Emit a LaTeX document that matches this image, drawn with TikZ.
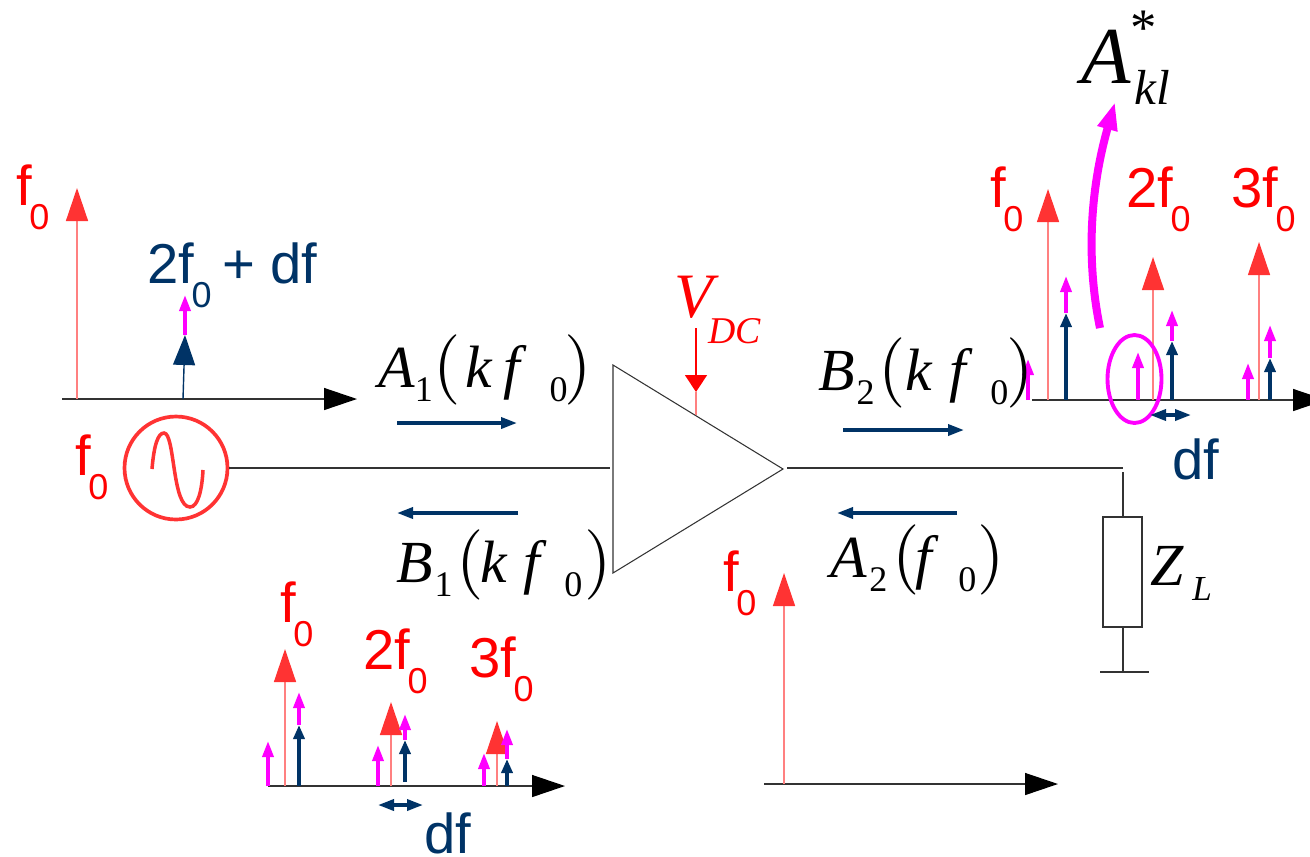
\documentclass[tikz,border=0pt]{standalone}
\usepackage{fontspec}
\usepackage{tikz}
\usetikzlibrary{arrows.meta,shapes.geometric}
\setmainfont{Liberation Sans}
\newfontfamily\ser{Liberation Serif}
\definecolor{navy}{HTML}{003366}
\definecolor{redhead}{HTML}{FF3333}
\definecolor{redline}{HTML}{FF8080}
\definecolor{magent}{HTML}{FF00FF}
\definecolor{wire}{HTML}{333333}
\newcommand{\lowz}[1]{\hspace{-1.5pt}\raisebox{-14.2pt}{\fontsize{20.5}{21}\selectfont #1}}
\newcommand{\itf}[1]{{\fontsize{34}{34}\selectfont\itshape #1}}
\newcommand{\lowf}[1]{\raisebox{-8.5pt}{\fontsize{20.5}{21}\selectfont #1}}
\newcommand{\prn}[1]{\scalebox{4}{$#1$}}

\begin{document}
\begin{tikzpicture}[
    x=0.02cm, y=-0.02cm,
    wireline/.style={draw=wire, line width=0.7pt},
    axisline/.style={draw=wire, line width=0.8pt, -{Triangle[length=0.66cm,width=0.44cm,color=black]}},
    redspike/.style={draw=redline, line width=0.8pt, -{Triangle[length=0.66cm,width=0.44cm,color=redhead]}},
    navyspike/.style={draw=navy, line width=2pt, -{Triangle[length=0.28cm,width=0.22cm]}},
    magspike/.style={draw=magent, line width=2pt, -{Triangle[length=0.32cm,width=0.22cm]}},
    flow/.style={draw=navy, line width=2pt, -{Triangle[length=0.32cm,width=0.22cm]}},
    span/.style={draw=navy, line width=2pt, {Triangle[length=0.32cm,width=0.22cm]}-{Triangle[length=0.32cm,width=0.22cm]}},
    redlab/.style={anchor=base west, inner sep=0pt, text=red, font=\fontsize{32}{32}\selectfont},
    navylab/.style={anchor=base west, inner sep=0pt, text=navy, font=\fontsize{32}{32}\selectfont},
    formula/.style={anchor=base west, inner sep=0pt, font=\ser}
]
\clip (0,0) rectangle (1310,856);
\useasboundingbox (0,0) rectangle (1310,856);
% circuit
\node[circle, draw=redhead, line width=2.1pt, minimum size=2.06cm, inner sep=0pt] (src) at (176,468) {};
\draw[redhead, line width=2pt] (152,469) .. controls (154,445) and (158,433) .. (164,433) .. controls (175,433) and (172,507) .. (190,507) .. controls (198,507) and (202,490) .. (203,470);
\coordinate (ampa) at (613,365);
\coordinate (ampb) at (613,573);
\coordinate (ampc) at (783,469);
\coordinate (ampin) at (610,468);
\coordinate (ampout) at (787,468);
\coordinate (corner) at (1123,468);
\coordinate (loadtop) at (1123,472);
\coordinate (gnd) at (1123,672);
\coordinate (gndl) at (1100,672);
\coordinate (gndr) at (1149,672);
\draw[wireline, line width=0.6pt] (ampa) -- (ampc) -- (ampb) -- cycle;
\draw[wireline] (src) -- (ampin);
\draw[wireline] (ampout) -- (corner);
\node[rectangle, draw=wire, line width=0.7pt, minimum width=0.78cm, minimum height=2.2cm, inner sep=0pt] (zl) at (1122.5,572) {};
\draw[wireline] (loadtop) -- (zl.north -| loadtop);
\draw[wireline] (zl.south -| gnd) -- (gnd);
\draw[wireline] (gndl) -- (gndr);
\coordinate (vtop) at (696,328);
\coordinate (vtip) at (696,392);
\coordinate (vamp) at (696,415);
\draw[draw=redline, line width=0.8pt] (vtip) -- (vamp);
\draw[draw=red, line width=0.8pt, -{Triangle[length=0.34cm,width=0.44cm,color=red]}] (vtop) -- (vtip);
% flow arrows
\foreach \n/\xa/\ya/\xb in {aone/397/423/517, bone/518/513/397, btwo/843/430/964, atwo/957/513/837} {
    \coordinate (\n s) at (\xa,\ya);
    \coordinate (\n e) at (\xb,\ya);
    \draw[flow] (\n s) -- (\n e);
}
% axes
\coordinate (axa) at (62,399);   \coordinate (axb) at (357,399);
\coordinate (axc) at (1032,400); \coordinate (axd) at (1326,400);
\coordinate (axe) at (268,786);  \coordinate (axf) at (565,786);
\coordinate (axg) at (764,784);  \coordinate (axh) at (1058,784);
\draw[axisline] (axa) -- (axb);
\draw[axisline] (axc) -- (axd);
\draw[axisline] (axe) -- (axf);
\draw[axisline] (axg) -- (axh);
% spectra
\foreach \n/\x/\y/\t in {ra/77/399/188, rb/1048/400/189, rc/1153/400/257, rd/1259/400/242,
    re/285/786/649, rf/391/786/702, rg/497/786/721, rh/784/784/573} {
    \coordinate (\n b) at (\x,\y);
    \coordinate (\n t) at (\x,\t);
    \draw[redspike] (\n b) -- (\n t);
}
\coordinate (na) at (183,399);
\coordinate (nb) at (185,335);
\draw[draw=navy, line width=0.8pt, -{Triangle[length=0.6cm,width=0.44cm]}] (na) -- (nb);
\foreach \n/\x/\y/\t in {nc/1066/400/313, nd/1172/400/341, ne/1270/400/358,
    nf/299/786/725, ng/405/782/740, nh/507/786/759} {
    \coordinate (\n b) at (\x,\y);
    \coordinate (\n t) at (\x,\t);
    \draw[navyspike] (\n b) -- (\n t);
}
\foreach \n/\x/\y/\t in {ma/185/335/295, mb/1028/400/359, mc/1066/313/276, md/1138/400/352, me/1172/341/310,
    mf/1248/400/363, mg/1270/358/325, mh/268/786/741, mi/299/725/692, mj/378/786/745,
    mk/405/740/714, ml/484/786/753, mm/507/759/729} {
    \coordinate (\n b) at (\x,\y);
    \coordinate (\n t) at (\x,\t);
    \draw[magspike] (\n b) -- (\n t);
}
\node[ellipse, draw=magent, line width=2.2pt, minimum width=1.08cm, minimum height=1.76cm, inner sep=0pt] (sel) at (1134.5,379) {};
\coordinate (pull) at (1100,328);
\coordinate (kl) at (1115,102);
\draw[draw=magent, line width=0.16cm, -{Triangle[length=0.56cm,width=0.38cm]}] (pull) .. controls (1086,260) and (1090,190) .. (kl);
\coordinate (dfa) at (1150,415); \coordinate (dfb) at (1191,415);
\coordinate (dfc) at (378,805);  \coordinate (dfd) at (423,805);
\draw[span] (dfa) -- (dfb);
\draw[span] (dfc) -- (dfd);
% labels
\node[redlab] (fa) at (16,205) {f\lowz{0}};
\node[redlab] (fb) at (75,475) {f\lowz{0}};
\node[redlab] (fc) at (990,207) {f\lowz{0}};
\node[redlab] (fd) at (1126,207) {2f\lowz{0}};
\node[redlab] (fe) at (1231,207) {3f\lowz{0}};
\node[redlab] (ff) at (280,622) {f\lowz{0}};
\node[redlab] (fg) at (363,669) {2f\lowz{0}};
\node[redlab] (fh) at (469,677) {3f\lowz{0}};
\node[redlab] (fi) at (723,591) {f\lowz{0}};
\node[navylab] (sum) at (147,283) {2f\lowz{0}\hspace{6pt}+ df};
\node[navylab] (dfr) at (1172,479) {df};
\node[navylab] (dfl) at (424,853) {df};
\node[formula] (aonef) at (378,387) {\itf{A}\lowf{1}\hspace{0.5pt}\prn{(}\hspace{2.8pt}\itf{k}\hspace{6pt}\itf{f}\hspace{17pt}\lowf{0}\hspace{-1.5pt}\prn{)}};
\node[formula] (bonef) at (396,582) {\itf{B}\hspace{1pt}\lowf{1}\hspace{2.1pt}\prn{(}\hspace{-1.6pt}\itf{k}\hspace{9pt}\itf{f}\hspace{14pt}\lowf{0}\hspace{1.5pt}\prn{)}};
\node[formula] (btwof) at (818,390) {\itf{B}\hspace{1pt}\lowf{2}\hspace{2.1pt}\prn{(}\hspace{0.2pt}\itf{k}\hspace{9.5pt}\itf{f}\hspace{14pt}\lowf{0}\hspace{-1pt}\prn{)}};
\node[formula] (atwof) at (830,577) {\itf{A}\hspace{1.5pt}\lowf{2}\hspace{2.6pt}\prn{(}\hspace{-2.2pt}\itf{f}\hspace{15pt}\lowf{0}\hspace{0.7pt}\prn{)}};
\node[formula, text=red] (vdc) at (674,317) {{\fontsize{36}{36}\selectfont\itshape V}};
\node[formula, text=red] (dc) at (708,343) {{\fontsize{21.5}{22}\selectfont\itshape DC}};
\node[formula] (zlab) at (1150,585) {\itf{Z}};
\node[formula] (llab) at (1192,600) {{\fontsize{20}{20}\selectfont\itshape L}};
\node[formula] (abig) at (1081,83) {{\fontsize{46}{46}\selectfont\itshape A}};
\node[formula] (akl) at (1134,104) {{\fontsize{28}{28}\selectfont\itshape kl}};
\node[formula] (astar) at (1130,45) {{\fontsize{30}{30}\selectfont *}};
\end{tikzpicture}
\end{document}
